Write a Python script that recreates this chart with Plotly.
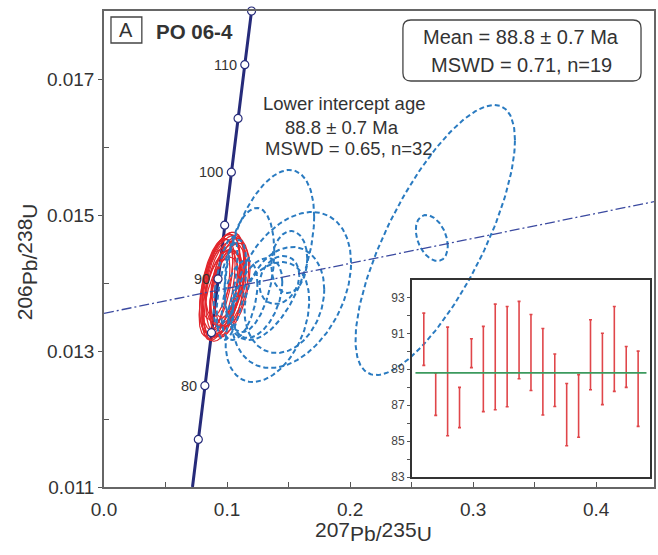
import numpy as np
import plotly.graph_objects as go

# ---------------- data ----------------
# Concordia reference points (age in Ma, 207Pb/235U, 206Pb/238U)
conc_age = [70.5, 75, 80, 85, 90, 95, 100, 105, 110, 115]
conc_x = [0.07192, 0.07666, 0.08198, 0.08732, 0.09268, 0.09808, 0.10350, 0.10895, 0.11442, 0.11992]
conc_y = [0.01100, 0.01170, 0.01249, 0.01327, 0.01406, 0.01485, 0.01563, 0.01642, 0.01721, 0.01800]
mark_age = [75, 80, 85, 90, 95, 100, 105, 110, 115]
label_age = [80, 90, 100, 110]

# Discordia (regression line) end points
disc_x = [0.0, 0.447]
disc_y = [0.013554, 0.015196]

# Red (concordant) ellipses: centre x, centre y, sigma x, sigma y, rho
red_cx = [0.0950, 0.0972, 0.0930, 0.0990, 0.0961, 0.1010, 0.0912, 0.0980, 0.1022, 0.0940,
          0.1000, 0.0922, 0.0969, 0.1036, 0.0898, 0.1014, 0.0958, 0.0988, 0.0942]
red_cy = [0.014011, 0.013937, 0.013908, 0.014040, 0.013849, 0.013966, 0.013966, 0.014099, 0.013908, 0.013819,
          0.013834, 0.014055, 0.013981, 0.014011, 0.013864, 0.014084, 0.013761, 0.013908, 0.013981]
red_sx = [0.0155, 0.0145, 0.0135, 0.0165, 0.0155, 0.0145, 0.0135, 0.0155, 0.0165, 0.0145,
          0.0135, 0.0125, 0.0175, 0.0140, 0.0125, 0.0135, 0.0145, 0.0125, 0.0165]
red_sy = [0.000706, 0.000676, 0.000735, 0.000662, 0.000647, 0.000618, 0.000691, 0.000647, 0.000676, 0.000662,
          0.000632, 0.000588, 0.000765, 0.000647, 0.000647, 0.000588, 0.000618, 0.000559, 0.000735]
red_rho = [0.45, 0.40, 0.50, 0.40, 0.45, 0.35, 0.50, 0.40, 0.45, 0.50,
           0.40, 0.50, 0.45, 0.35, 0.55, 0.40, 0.45, 0.40, 0.50]

# Blue (discordant) ellipses
blue_cx = [0.2692, 0.2664, 0.1344, 0.1522, 0.1328, 0.1466, 0.1425, 0.1506, 0.1182, 0.1036, 0.1101, 0.0988, 0.1247]
blue_cy = [0.014632, 0.014662, 0.014412, 0.013897, 0.013426, 0.013750, 0.014044, 0.014309, 0.014191,
           0.013897, 0.013750, 0.014015, 0.013779]
blue_sx = [0.0648, 0.0130, 0.0364, 0.0486, 0.0340, 0.0324, 0.0162, 0.0146, 0.0202, 0.0121, 0.0146, 0.0097, 0.0202]
blue_sy = [0.001985, 0.000338, 0.001250, 0.001147, 0.000882, 0.000780, 0.000353, 0.000456, 0.000912,
           0.000735, 0.000588, 0.000662, 0.000588]
blue_rho = [0.74, -0.35, 0.45, 0.35, 0.35, 0.20, 0.20, 0.10, 0.30, 0.50, 0.40, 0.60, 0.40]

# Inset: individual 206Pb/238U ages (Ma), error bar tops and bottoms
inset_n = list(range(1, 20))
age_top = [92.13, 88.79, 91.35, 87.99, 90.70, 91.39, 92.63, 92.50, 92.78, 92.05,
           91.27, 89.85, 88.21, 88.70, 91.76, 91.01, 92.50, 90.27, 90.01]
age_bot = [89.22, 86.43, 85.30, 85.75, 89.09, 86.64, 86.75, 86.91, 88.47, 87.82,
           86.45, 86.93, 84.74, 85.21, 87.86, 87.03, 87.77, 87.99, 85.82]
mean_age = 88.8

x_ticks = [0.0, 0.1, 0.2, 0.3, 0.4]
x_ticktext = ["0.0", "0.1", "0.2", "0.3", "0.4"]
y_ticks = [0.011, 0.013, 0.015, 0.017]
y_ticktext = ["0.011", "0.013", "0.015", "0.017"]
inset_ticks = [83, 85, 87, 89, 91, 93]
inset_minor = [84, 86, 88, 90, 92]

# ---------------- styles ----------------
FONT = "Arial, 'Liberation Sans', sans-serif"
TXT = "#333333"
RED = "#e2262c"
BLUE = "#2a7bc1"
NAVY = "#262b7a"
DISC = "#3b4aa0"

fig = go.Figure()

tt = np.linspace(0, 2 * np.pi, 181)


def ellipse(cx, cy, sx, sy, r):
    x = cx + sx * np.cos(tt)
    y = cy + sy * (r * np.cos(tt) + np.sqrt(1 - r * r) * np.sin(tt))
    return x, y


# concordia line
fig.add_trace(go.Scatter(x=conc_x, y=conc_y, mode="lines",
                         line=dict(color=NAVY, width=3), hoverinfo="skip", showlegend=False))

# red ellipses
for i in range(len(red_cx)):
    ex, ey = ellipse(red_cx[i], red_cy[i], red_sx[i], red_sy[i], red_rho[i])
    fig.add_trace(go.Scatter(x=ex, y=ey, mode="lines", line=dict(color=RED, width=1.2),
                             hoverinfo="skip", showlegend=False))

# blue ellipses
for i in range(len(blue_cx)):
    ex, ey = ellipse(blue_cx[i], blue_cy[i], blue_sx[i], blue_sy[i], blue_rho[i])
    fig.add_trace(go.Scatter(x=ex, y=ey, mode="lines",
                             line=dict(color=BLUE, width=2, dash="5px,3px"),
                             hoverinfo="skip", showlegend=False))

# discordia
fig.add_trace(go.Scatter(x=disc_x, y=disc_y, mode="lines",
                         line=dict(color=DISC, width=1.3, dash="10px,3px,2px,3px"),
                         hoverinfo="skip", showlegend=False))

# concordia age markers
mx = [conc_x[conc_age.index(a)] for a in mark_age]
my = [conc_y[conc_age.index(a)] for a in mark_age]
fig.add_trace(go.Scatter(x=mx, y=my, mode="markers", cliponaxis=False,
                         marker=dict(size=8, color="white", line=dict(color=NAVY, width=1.2)),
                         hoverinfo="skip", showlegend=False))

for a in label_age:
    k = conc_age.index(a)
    fig.add_annotation(x=conc_x[k], y=conc_y[k], xref="x", yref="y", text=str(a),
                       showarrow=False, xanchor="right", yanchor="middle", xshift=-6,
                       font=dict(family=FONT, size=14.5, color=TXT))

# ---------------- inset ----------------
mid = [(a + b) / 2 for a, b in zip(age_top, age_bot)]
half = [(a - b) / 2 for a, b in zip(age_top, age_bot)]
fig.add_trace(go.Scatter(x=inset_n, y=mid, mode="markers", xaxis="x2", yaxis="y2",
                         marker=dict(size=0.1, color=RED, opacity=0),
                         error_y=dict(type="data", array=half, color="#e0464a",
                                      thickness=1.6, width=1.5),
                         hoverinfo="skip", showlegend=False))
fig.add_trace(go.Scatter(x=[0.3, 19.7], y=[mean_age, mean_age], mode="lines",
                         xaxis="x2", yaxis="y2", line=dict(color="#3c9a5e", width=1.6),
                         hoverinfo="skip", showlegend=False))

# ---------------- text ----------------
def ann(x, y, text, size, xanchor="center", bold=False):
    fig.add_annotation(x=x, y=y, xref="paper", yref="paper", text=text, showarrow=False,
                       xanchor=xanchor, yanchor="middle",
                       font=dict(family=FONT, size=size, color=TXT,
                                 weight="bold" if bold else "normal"))


# panel label
fig.add_shape(type="rect", xref="paper", yref="paper", x0=0.0127, x1=0.0688, y0=0.9328, y1=0.9874,
              line=dict(color="#444444", width=1.3), fillcolor="white")
ann(0.0408, 0.9600, "A", 20)
ann(0.0900, 0.9560, "PO 06-4", 20.5, xanchor="left", bold=True)

# mean box (rounded)
x0, x1, y0, y1 = 0.5435, 0.9764, 0.8529, 0.9811
rx, ry = 0.0145, 0.0168
path = (f"M {x0+rx},{y0} L {x1-rx},{y0} Q {x1},{y0} {x1},{y0+ry} L {x1},{y1-ry} "
        f"Q {x1},{y1} {x1-rx},{y1} L {x0+rx},{y1} Q {x0},{y1} {x0},{y1-ry} "
        f"L {x0},{y0+ry} Q {x0},{y0} {x0+rx},{y0} Z")
fig.add_shape(type="path", xref="paper", yref="paper", path=path,
              line=dict(color="#444444", width=1.3), fillcolor="white")
ann(0.7590, 0.9454, "Mean = 88.8 ± 0.7 Ma", 20)
ann(0.7590, 0.8866, "MSWD = 0.71, n=19", 20)

ann(0.4366, 0.8067, "Lower intercept age", 18.5)
ann(0.4330, 0.7563, "88.8 ± 0.7 Ma", 18.5)
ann(0.4450, 0.7101, "MSWD = 0.65, n=32", 18.5)

# axis titles
big = 'style="font-size:21px"'
ann(0.490, -0.0945, f'207<sub><span {big}>Pb/</span></sub>235<sub><span {big}>U</span></sub>', 21)
fig.add_annotation(x=-0.1395, y=0.4727, xref="paper", yref="paper", textangle=-90,
                   text=f'206<sub><span {big}>Pb/</span></sub>238<sub><span {big}>U</span></sub>',
                   showarrow=False, xanchor="center", yanchor="middle",
                   font=dict(family=FONT, size=21, color=TXT))

# ---------------- layout ----------------
fig.update_layout(
    width=658, height=555,
    margin=dict(l=104, r=2, t=11, b=68),
    paper_bgcolor="white", plot_bgcolor="rgba(0,0,0,0)",
    showlegend=False,
    font=dict(family=FONT, color=TXT),
    xaxis=dict(range=[0, 0.447], domain=[0, 1], tickvals=x_ticks, ticktext=x_ticktext,
               ticks="inside", ticklen=5, tickcolor="#555555", showgrid=False, zeroline=False,
               showline=True, linecolor="#666666", linewidth=1.5, mirror=True,
               tickfont=dict(family=FONT, size=19, color=TXT), ticklabelstandoff=4,
               minor=dict(tickvals=[0.05, 0.15, 0.25, 0.35], ticks="inside", ticklen=5,
                          tickcolor="#555555")),
    yaxis=dict(range=[0.011, 0.018], domain=[0, 1], tickvals=y_ticks, ticktext=y_ticktext,
               ticks="outside", ticklen=4, tickcolor="#555555", showgrid=False, zeroline=False,
               showline=True, linecolor="#666666", linewidth=1.5, mirror=True,
               tickfont=dict(family=FONT, size=19, color=TXT),
               minor=dict(tickvals=[0.012, 0.014, 0.016], ticks="inside", ticklen=5,
                          tickcolor="#555555")),
    xaxis2=dict(range=[0, 20], domain=[0.5598, 0.9928], anchor="y2", showticklabels=False,
                ticks="", showgrid=False, zeroline=False, showline=True, linecolor="#333333",
                linewidth=1.6, mirror=True),
    yaxis2=dict(range=[83, 94], domain=[0.021, 0.4359], anchor="x2", tickvals=inset_ticks,
                ticks="outside", ticklen=3, tickcolor="#555555", showgrid=False, zeroline=False,
                showline=True, linecolor="#333333", linewidth=1.6, mirror=True,
                tickfont=dict(family=FONT, size=12, color="#444444"),
                minor=dict(tickvals=inset_minor, ticks="outside", ticklen=3, tickcolor="#555555")),
)

fig.write_html("out.html", config={"displayModeBar": False},
               post_script="document.body.style.margin='0';document.body.style.padding='0';")
